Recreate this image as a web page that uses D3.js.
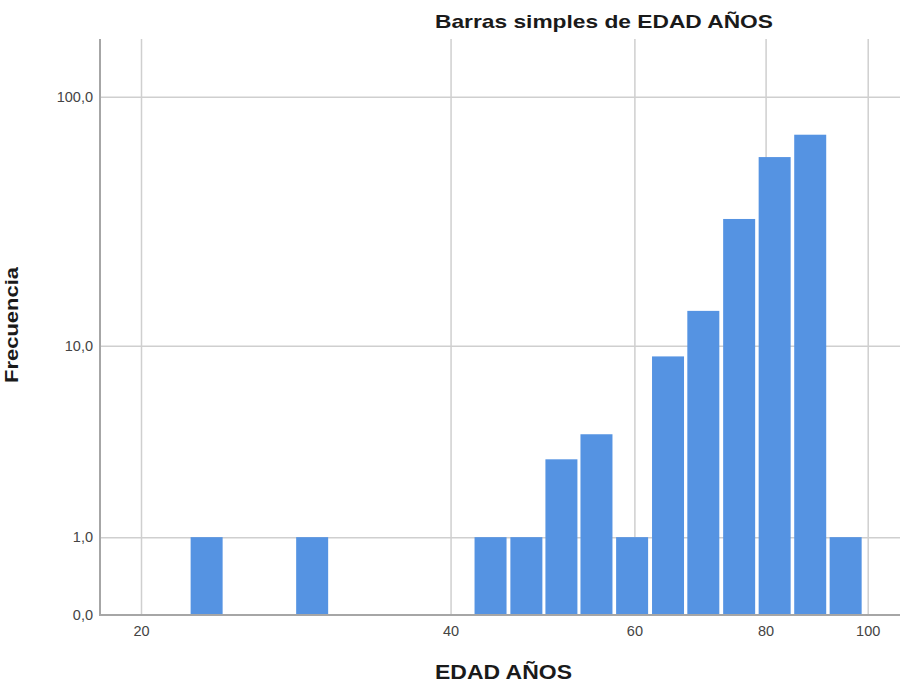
<!DOCTYPE html>
<html><head><meta charset="utf-8">
<script src="https://cdn.jsdelivr.net/npm/d3@7"></script>
<style>body{margin:0;background:#fff}svg{display:block}</style>
</head><body>
<svg id="c" width="900" height="688"></svg>
<script>
// ---- data ----
const ageBins = [23.2, 29.4, 43.7, 47.3, 51.1, 55.2, 59.7, 64.6, 69.8, 75.5, 81.6, 88.2, 95.3];
const frequencies = [1, 1, 1, 1, 3, 4, 1, 9, 14, 33, 58, 71, 1];
const xTicks = [20, 40, 60, 80, 100];
const yTicks = [0, 1, 10, 100];
const yTickLabels = ["0,0", "1,0", "10,0", "100,0"];
const title = "Barras simples de EDAD AÑOS";
const xTitle = "EDAD AÑOS";
const yTitle = "Frecuencia";

const svg = d3.select("#c");
const x = d3.scaleSymlog().constant(1).domain([20, 100]).range([141, 867.7]);
const y = d3.scaleSymlog().constant(1).domain([0, 100]).range([615, 96.7]);
const plotTop = 39, plotLeft = 100, plotRight = 900;
const barW = 32;
const ff = "Liberation Sans, Arial, sans-serif";

// gridlines
const xAxis = d3.axisBottom(x).tickValues(xTicks).tickFormat(d3.format("d")).tickSize(-(y(0) - plotTop));
const gx = svg.append("g").attr("transform", `translate(0,${y(0)})`).call(xAxis);
gx.select(".domain").remove();
gx.selectAll(".tick line").attr("stroke", "#cfcfcf").attr("stroke-width", 1.5);
gx.selectAll(".tick text").attr("fill", "#444").attr("font-family", ff)
  .attr("font-size", 14.5).attr("dy", "1.2em").attr("y", 4);

const yAxis = d3.axisLeft(y).tickValues(yTicks).tickFormat((d, i) => yTickLabels[i]).tickSize(-(plotRight - plotLeft));
const gy = svg.append("g").attr("transform", `translate(${plotLeft},0)`).call(yAxis);
gy.select(".domain").remove();
gy.selectAll(".tick line").attr("stroke", d => d === 0 ? "none" : "#cfcfcf").attr("stroke-width", 1.5);
gy.selectAll(".tick text").attr("fill", "#444").attr("font-family", ff)
  .attr("font-size", 14.5).attr("x", -7);

// bars
svg.append("g").selectAll("rect").data(ageBins).join("rect")
  .attr("x", d => x(d) - barW / 2)
  .attr("width", barW)
  .attr("y", (d, i) => y(frequencies[i]))
  .attr("height", (d, i) => y(0) - y(frequencies[i]))
  .attr("fill", "#5593e2");

// axis lines
svg.append("line").attr("x1", plotLeft).attr("x2", plotLeft).attr("y1", plotTop).attr("y2", y(0) + 1)
  .attr("stroke", "#a6a6a6").attr("stroke-width", 2);
svg.append("line").attr("x1", plotLeft).attr("x2", plotRight).attr("y1", y(0)).attr("y2", y(0))
  .attr("stroke", "#a6a6a6").attr("stroke-width", 2);

// titles
svg.append("text").attr("x", 435).attr("y", 28).text(title)
  .attr("font-family", ff).attr("font-weight", "bold").attr("font-size", 19).attr("fill", "#1a1a1a")
  .attr("textLength", 338).attr("lengthAdjust", "spacingAndGlyphs");
svg.append("text").attr("x", 435).attr("y", 679).text(xTitle)
  .attr("font-family", ff).attr("font-weight", "bold").attr("font-size", 19.5).attr("fill", "#1a1a1a")
  .attr("textLength", 137).attr("lengthAdjust", "spacingAndGlyphs");
svg.append("text").attr("transform", "translate(18,383) rotate(-90)").text(yTitle)
  .attr("font-family", ff).attr("font-weight", "bold").attr("font-size", 19).attr("fill", "#1a1a1a")
  .attr("textLength", 116).attr("lengthAdjust", "spacingAndGlyphs");
</script>
</body></html>
